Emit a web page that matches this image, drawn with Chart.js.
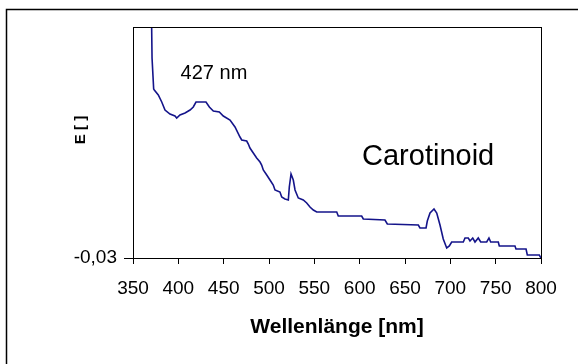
<!DOCTYPE html>
<html>
<head>
<meta charset="utf-8">
<script src="https://cdn.jsdelivr.net/npm/chart.js@4/dist/chart.umd.min.js"></script>
<style>
  html, body { margin: 0; padding: 0; background: #fff; }
  #wrap { width: 578px; height: 364px; position: relative; }
</style>
</head>
<body>
<div id="wrap"><canvas id="chart" width="578" height="364"></canvas></div>
<script>
const wavelength = [
    370.4, 371.0, 372.8, 373.5, 377.9, 381.7, 385.3, 390.8, 396.3, 398.2,
    401.8, 407.4, 412.9, 416.5, 419.5, 430.5, 434.2, 438.6, 445.2, 449.6,
    457.0, 462.5, 468.0, 469.9, 475.4, 477.2, 479.0, 482.7, 486.4, 490.1,
    491.9, 493.7, 497.5, 501.1, 504.7, 506.6, 512.1, 514.0, 517.6, 521.3,
    522.4, 524.3, 526.8, 528.7, 532.3, 537.8, 541.6, 545.2, 548.9, 552.6,
    574.7, 576.4, 602.2, 604.0, 627.9, 630.5, 664.7, 666.5, 673.2, 674.6,
    677.6, 682.0, 685.0, 688.6, 692.2, 696.0, 698.9, 701.5, 714.3, 716.2,
    719.8, 721.7, 724.7, 727.2, 730.8, 733.5, 740.1, 742.6, 744.5, 752.9,
    754.0, 771.3, 772.4, 783.5, 784.9, 798.1, 800.0
];
const extinction = [
    0.213, 0.170, 0.139, 0.138, 0.133, 0.126, 0.118, 0.114, 0.112, 0.110,
    0.113, 0.115, 0.118, 0.121, 0.126, 0.126, 0.121, 0.117, 0.116, 0.112,
    0.108, 0.101, 0.091, 0.088, 0.087, 0.084, 0.080, 0.075, 0.070, 0.066,
    0.063, 0.058, 0.053, 0.048, 0.043, 0.038, 0.036, 0.031, 0.029, 0.028,
    0.041, 0.054, 0.048, 0.038, 0.030, 0.028, 0.025, 0.021, 0.018, 0.016,
    0.016, 0.012, 0.012, 0.009, 0.008, 0.004, 0.003, 0.000, 0.000, 0.007,
    0.015, 0.019, 0.015, 0.003, -0.011, -0.020, -0.018, -0.014, -0.014, -0.010,
    -0.010, -0.013, -0.010, -0.014, -0.010, -0.014, -0.014, -0.010, -0.014, -0.014,
    -0.018, -0.018, -0.021, -0.021, -0.027, -0.027, -0.030
];
const xMin = 350, xMax = 800, xStep = 50;
const yMin = -0.03, yMax = 0.201;
const yTickLabels = ["-0,03"];

// Beschriftungen im Diagramm (Datenkoordinaten)
const notes = [
    { text: "427 nm", x: 439.3, y: 0.155, size: 20 },
    { text: "Carotinoid", x: 675.5, y: 0.071, size: 29 }
];

const FONT = "'Liberation Sans', Arial, sans-serif";
const points = wavelength.map((w, i) => ({ x: w, y: extinction[i] }));

const framePlugin = {
    id: "frame",
    beforeDraw(chart) {
        const ctx = chart.ctx;
        ctx.save();
        ctx.strokeStyle = "#000";
        ctx.lineWidth = 1.5;
        ctx.beginPath();
        ctx.moveTo(6.5, 364);
        ctx.lineTo(6.5, 9.5);
        ctx.lineTo(578, 9.5);
        ctx.stroke();
        ctx.restore();
    },
    afterDraw(chart) {
        const ctx = chart.ctx;
        const a = chart.chartArea;
        const xs = chart.scales.x, ys = chart.scales.y;
        ctx.save();
        // Rahmen um die Zeichenfläche
        ctx.strokeStyle = "#000";
        ctx.lineWidth = 1;
        ctx.strokeRect(Math.round(a.left) + 0.5, Math.round(a.top) + 0.5,
            Math.round(a.right - a.left), Math.round(a.bottom - a.top));

        ctx.fillStyle = "#000";
        ctx.textAlign = "center";
        ctx.textBaseline = "middle";
        notes.forEach(n => {
            ctx.font = n.size + "px " + FONT;
            ctx.fillText(n.text, xs.getPixelForValue(n.x), ys.getPixelForValue(n.y));
        });

        // y-Achsentitel
        ctx.font = "bold 15px " + FONT;
        ctx.translate(81, 130);
        ctx.rotate(-Math.PI / 2);
        ctx.fillText("E [ ]", 0, 0);
        ctx.restore();
    }
};

new Chart(document.getElementById("chart"), {
    type: "line",
    data: {
        datasets: [{
            data: points,
            borderColor: "#14148a",
            borderWidth: 1.6,
            pointRadius: 0,
            tension: 0,
            fill: false
        }]
    },
    options: {
        responsive: false,
        animation: false,
        layout: { padding: { top: 27, right: 37, left: 0, bottom: 0 } },
        plugins: { legend: { display: false }, tooltip: { enabled: false } },
        scales: {
            x: {
                type: "linear",
                min: xMin,
                max: xMax,
                afterFit(scale) { scale.height = 106; },
                ticks: {
                    stepSize: xStep,
                    color: "#000",
                    padding: 13,
                    maxRotation: 0,
                    font: { family: FONT, size: 19 }
                },
                grid: { drawOnChartArea: false, drawTicks: true, tickLength: 6, color: "#000" },
                border: { display: true, color: "#000", width: 1 },
                title: {
                    display: true,
                    text: "Wellenlänge [nm]",
                    color: "#000",
                    padding: { top: 0, bottom: 24 },
                    font: { family: FONT, size: 21, weight: "bold" }
                }
            },
            y: {
                min: yMin,
                max: yMax,
                afterFit(scale) { scale.width = 133; },
                afterBuildTicks(scale) { scale.ticks = [{ value: yMin }]; },
                ticks: {
                    color: "#000",
                    padding: 7,
                    callback: (v, i) => yTickLabels[i],
                    font: { family: FONT, size: 19 }
                },
                grid: { drawOnChartArea: false, drawTicks: true, tickLength: 9, color: "#000" },
                border: { display: true, color: "#000", width: 1 }
            }
        }
    },
    plugins: [framePlugin]
});
</script>
</body>
</html>
